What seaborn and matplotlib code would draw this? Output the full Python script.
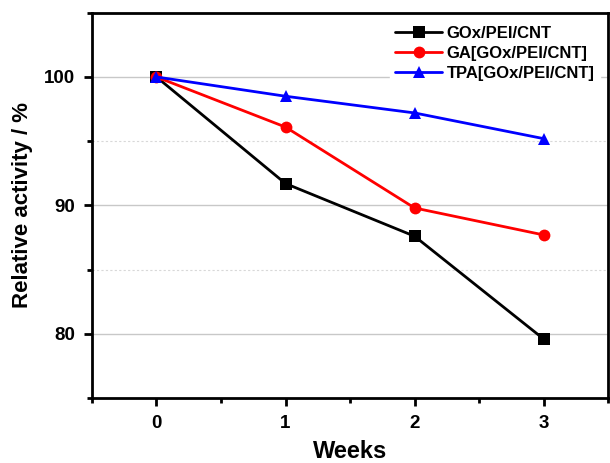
import numpy as np
import pandas as pd
import matplotlib
matplotlib.use("Agg")
import matplotlib.pyplot as plt
import seaborn as sns
from matplotlib.ticker import MultipleLocator

weeks = [0, 1, 2, 3]
gox_pei_cnt = [100.0, 91.7, 87.6, 79.6]
ga_gox = [100.0, 96.1, 89.8, 87.7]
tpa_gox = [100.0, 98.5, 97.2, 95.2]
series_names = ["GOx/PEI/CNT", "GA[GOx/PEI/CNT]", "TPA[GOx/PEI/CNT]"]

sns.set_style("white")
plt.rcParams['font.family'] = ['Liberation Sans', 'DejaVu Sans']
plt.rcParams['font.weight'] = 'bold'
plt.rcParams['text.color'] = 'black'
plt.rcParams['axes.labelcolor'] = 'black'
plt.rcParams['xtick.color'] = 'black'
plt.rcParams['ytick.color'] = 'black'

rows = []
for name, vals in zip(series_names, [gox_pei_cnt, ga_gox, tpa_gox]):
    for w, v in zip(weeks, vals):
        rows.append({"Weeks": w, "Activity": v, "Series": name})
df = pd.DataFrame(rows)

fig = plt.figure(figsize=(6.10, 4.63), dpi=100)
ax = fig.add_axes([0.1508, 0.1404, 0.846, 0.832])

palette = {series_names[0]: "black", series_names[1]: "red", series_names[2]: "blue"}
markers = {series_names[0]: "s", series_names[1]: "o", series_names[2]: "^"}
sns.lineplot(data=df, x="Weeks", y="Activity", hue="Series", style="Series",
             palette=palette, markers=markers, dashes=False, linewidth=2,
             markersize=8.5, markeredgewidth=0, ax=ax, zorder=3)

ax.set_xlim(-0.5, 3.5)
ax.set_ylim(75, 105)
ax.xaxis.set_minor_locator(MultipleLocator(0.5))
ax.yaxis.set_minor_locator(MultipleLocator(5))
ax.set_yticks([80, 90, 100])
ax.set_xticks([0, 1, 2, 3])

ax.grid(True, axis='y', which='major', color='#c8c8c8', linewidth=1, linestyle='-')
ax.grid(True, axis='y', which='minor', color='#d8d8d8', linewidth=0.8, linestyle=(0, (2, 2)))
ax.set_axisbelow(True)

for s in ax.spines.values():
    s.set_linewidth(2)
    s.set_color('black')

ax.tick_params(axis='both', which='major', direction='out', length=6, width=2,
               labelsize=13.5, pad=6, bottom=True, left=True, colors='black')
ax.tick_params(axis='both', which='minor', direction='out', length=3.5, width=2,
               bottom=True, left=True)
for lab in ax.get_xticklabels() + ax.get_yticklabels():
    lab.set_fontweight('bold')

ax.set_xlabel("Weeks", fontsize=17, fontweight='bold', labelpad=6)
ax.set_ylabel("Relative activity / %", fontsize=16, fontweight='bold', labelpad=8)

leg = ax.legend(loc='upper right', frameon=True, fontsize=12, handlelength=2.8,
                borderaxespad=0.5, labelspacing=0.3, handletextpad=0.3,
                borderpad=0.3)
leg.get_frame().set_edgecolor('white')
leg.get_frame().set_facecolor('white')
leg.get_frame().set_alpha(1)
for t in leg.get_texts():
    t.set_fontweight('bold')
    t.set_color('black')

fig.savefig("out.png", dpi=100)
